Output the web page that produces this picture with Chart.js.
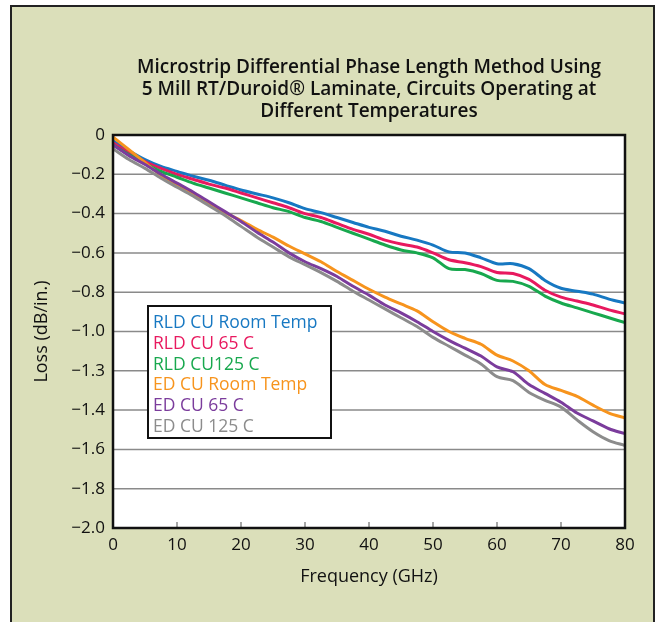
<!DOCTYPE html>
<html>
<head>
<meta charset="utf-8">
<script src="https://cdn.jsdelivr.net/npm/chart.js@4.4.1/dist/chart.umd.min.js"></script>
<style>
  html, body { margin: 0; padding: 0; background: #fff; }
  #wrap { position: relative; width: 660px; height: 622px; overflow: hidden; }
  #frame { position: absolute; left: 10px; top: 5px; width: 641px; height: 640px;
           background: #dbdfba; border: 2px solid #222; }
  #chart { position: absolute; left: 0; top: 0; }
</style>
</head>
<body>
<div id="wrap">
  <div id="frame"></div>
  <canvas id="chart" width="660" height="622"></canvas>
</div>
<script>
// Data
const freq = [0, 2.5, 5, 7.5, 10, 12.5, 15, 17.5, 20, 22.5, 25, 27.5, 30, 32.5, 35, 37.5, 40,
              42.5, 45, 47.5, 50, 52.5, 55, 57.5, 60, 62.5, 65, 67.5, 70, 72.5, 75, 77.5, 80];

const rldRoom = [-0.03, -0.08, -0.125, -0.16, -0.185, -0.21, -0.23, -0.255, -0.28, -0.30, -0.32, -0.345, -0.375,
                 -0.395, -0.42, -0.445, -0.47, -0.49, -0.515, -0.535, -0.56, -0.595, -0.60, -0.625, -0.655,
                 -0.655, -0.68, -0.74, -0.78, -0.795, -0.81, -0.835, -0.855];
const rld65 = [-0.04, -0.09, -0.135, -0.17, -0.20, -0.225, -0.25, -0.27, -0.295, -0.32, -0.345, -0.37, -0.40,
               -0.42, -0.45, -0.48, -0.505, -0.535, -0.555, -0.57, -0.60, -0.635, -0.65, -0.67, -0.70,
               -0.705, -0.735, -0.79, -0.825, -0.845, -0.865, -0.89, -0.91];
const rld125 = [-0.05, -0.10, -0.145, -0.185, -0.215, -0.245, -0.27, -0.295, -0.32, -0.345, -0.37, -0.39, -0.42,
                -0.44, -0.47, -0.50, -0.53, -0.56, -0.585, -0.60, -0.625, -0.68, -0.685, -0.705, -0.74,
                -0.745, -0.77, -0.82, -0.855, -0.88, -0.905, -0.93, -0.955];
const edRoom = [-0.01, -0.075, -0.14, -0.205, -0.255, -0.30, -0.35, -0.395, -0.435, -0.48, -0.52, -0.565, -0.605,
                -0.645, -0.695, -0.74, -0.785, -0.825, -0.86, -0.895, -0.95, -1.0, -1.035, -1.065, -1.12,
                -1.15, -1.2, -1.27, -1.30, -1.33, -1.375, -1.415, -1.44];
const ed65 = [-0.05, -0.105, -0.15, -0.20, -0.245, -0.29, -0.34, -0.39, -0.44, -0.495, -0.545, -0.60, -0.645,
              -0.68, -0.72, -0.77, -0.815, -0.865, -0.905, -0.95, -1.0, -1.045, -1.085, -1.125, -1.18,
              -1.205, -1.27, -1.315, -1.36, -1.415, -1.455, -1.495, -1.52];
const ed125 = [-0.07, -0.125, -0.17, -0.22, -0.265, -0.31, -0.36, -0.41, -0.465, -0.52, -0.57, -0.62, -0.66,
               -0.70, -0.745, -0.795, -0.84, -0.885, -0.93, -0.975, -1.03, -1.075, -1.12, -1.165, -1.23,
               -1.25, -1.31, -1.35, -1.385, -1.45, -1.51, -1.555, -1.58];

const seriesNames = ['RLD CU Room Temp', 'RLD CU 65 C', 'RLD CU125 C', 'ED CU Room Temp', 'ED CU 65 C', 'ED CU 125 C'];
const seriesValues = [rldRoom, rld65, rld125, edRoom, ed65, ed125];
const seriesColors = ['#1778c2', '#e8195f', '#18a84e', '#f7941d', '#7b3c9c', '#8c8c8c'];

// tick labels as printed (top to bottom)
const yTickLabels = ['0', '\u22120.2', '\u22120.4', '\u22120.6', '\u22120.8', '\u22121.0',
                     '\u22121.3', '\u22121.4', '\u22121.6', '\u22121.8', '\u22122.0'];
const xTicks = [0, 10, 20, 30, 40, 50, 60, 70, 80];
const titleLines = ['Microstrip Differential Phase Length Method Using',
                    '5 Mill RT/Duroid\u00ae Laminate, Circuits Operating at',
                    'Different Temperatures'];

const FONT = '"Open Sans", Lato, sans-serif';

// white plot area + frame, inside x ticks, legend box, title over plot centre
const plotDeco = {
    id: 'plotDeco',
    beforeDatasetsDraw(chart) {
        const a = chart.chartArea, c = chart.ctx;
        c.save();
        c.fillStyle = '#fff';
        c.fillRect(a.left, a.top, a.right - a.left, a.bottom - a.top);
        const y = chart.scales.y;
        c.strokeStyle = '#8a8a8a';
        c.lineWidth = 1.5;
        y.ticks.forEach(t => {
            const py = y.getPixelForValue(t.value);
            c.beginPath(); c.moveTo(a.left, py); c.lineTo(a.right, py); c.stroke();
        });
        // inside tick marks on x axis
        const x = chart.scales.x;
        xTicks.slice(1, -1).forEach(v => {
            const px = x.getPixelForValue(v);
            c.beginPath(); c.moveTo(px, a.bottom); c.lineTo(px, a.bottom - 6); c.stroke();
        });
        c.restore();
    },
    afterDatasetsDraw(chart) {
        const a = chart.chartArea, c = chart.ctx;
        c.save();
        c.strokeStyle = '#111';
        c.lineWidth = 2.5;
        c.strokeRect(a.left, a.top, a.right - a.left, a.bottom - a.top);
        // legend
        const lx = 148, ly = 306, lw = 183, lh = 132;
        c.fillStyle = '#fff';
        c.fillRect(lx, ly, lw, lh);
        c.lineWidth = 2;
        c.strokeRect(lx, ly, lw, lh);
        c.font = '17.5px ' + FONT;
        c.textBaseline = 'middle';
        c.textAlign = 'left';
        seriesNames.forEach((n, i) => {
            c.fillStyle = seriesColors[i];
            c.fillText(n, lx + 5, ly + 17 + i * 20.8);
        });
        // title
        c.fillStyle = '#111';
        c.font = '600 19px ' + FONT;
        c.textAlign = 'center';
        const cx = (a.left + a.right) / 2;
        titleLines.forEach((t, i) => c.fillText(t, cx, 68 + i * 22));
        c.restore();
    }
};

const ctx = document.getElementById('chart').getContext('2d');
const chart = new Chart(ctx, {
    type: 'line',
    data: {
        labels: freq,
        // drawn back to front so the blue line sits on top
        datasets: seriesNames.map((n, i) => ({
            label: n,
            data: freq.map((f, j) => ({ x: f, y: seriesValues[i][j] })),
            borderColor: seriesColors[i],
            borderWidth: 3,
            pointRadius: 0,
            tension: 0.3,
            fill: false
        })).reverse()
    },
    options: {
        responsive: false,
        animation: false,
        layout: { padding: { left: 27, right: 35, top: 135, bottom: 30 } },
        plugins: {
            legend: { display: false },
            tooltip: { enabled: false },
            title: { display: false }
        },
        scales: {
            x: {
                type: 'linear',
                min: 0, max: 80,
                afterBuildTicks: axis => { axis.ticks = xTicks.map(v => ({ value: v })); },
                grid: { display: false, drawTicks: false },
                border: { display: false },
                ticks: { color: '#111', font: { family: FONT, size: 17 }, padding: 7, maxRotation: 0 },
                title: { display: true, text: 'Frequency (GHz)', color: '#111',
                         font: { family: FONT, size: 18 }, padding: { top: 4, bottom: 4 } },
                afterFit: axis => { axis.height = 64; }
            },
            y: {
                min: -2, max: 0,
                ticks: {
                    stepSize: 0.2,
                    color: '#111',
                    font: { family: FONT, size: 17 },
                    padding: 8,
                    callback: v => yTickLabels[Math.round(-v / 0.2)]
                },
                grid: { display: false, drawTicks: false },
                border: { display: false },
                title: { display: true, text: 'Loss (dB/in.)', color: '#111',
                         font: { family: FONT, size: 18 }, padding: { top: 4, bottom: 4 } },
                afterFit: axis => { axis.width = 86; }
            }
        }
    },
    plugins: [plotDeco]
});
</script>
</body>
</html>
